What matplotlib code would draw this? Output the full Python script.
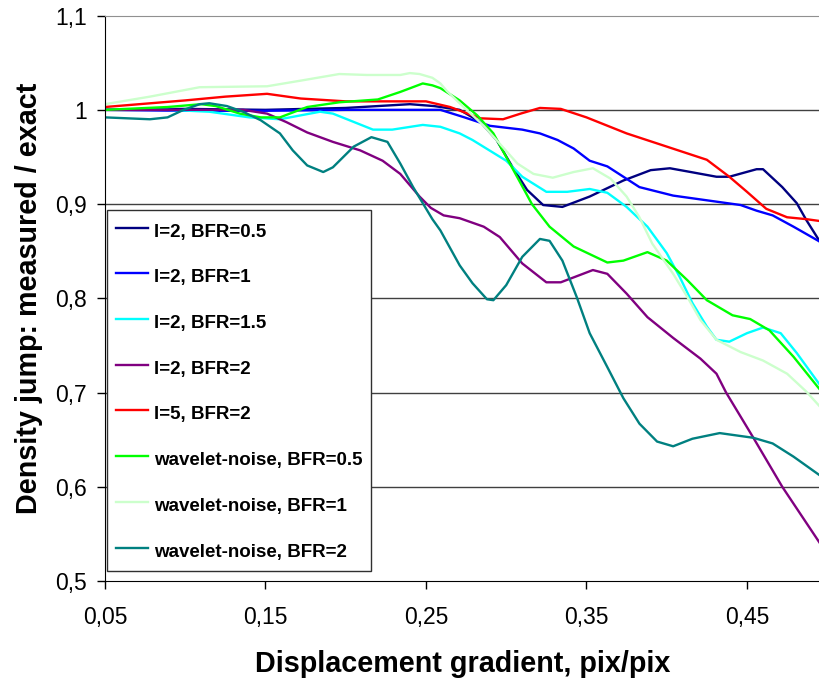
import matplotlib
matplotlib.use('Agg')
import matplotlib.pyplot as plt
from matplotlib.ticker import FuncFormatter

plt.rcParams['font.family'] = ['Liberation Sans', 'DejaVu Sans']

# displacement gradient (pix/pix) vs measured/exact density jump, one pair per run
x_l2_bfr05 = [0.05, 0.10, 0.15, 0.20, 0.24, 0.255, 0.271, 0.284, 0.294, 0.304, 0.313, 0.323,
              0.335, 0.352, 0.373, 0.39, 0.402, 0.415, 0.431, 0.439, 0.456, 0.46, 0.472,
              0.481, 0.487, 0.4955]
y_l2_bfr05 = [1.0, 1.001, 1.0, 1.002, 1.006, 1.004, 1.0, 0.987, 0.968, 0.939, 0.915, 0.899,
              0.897, 0.908, 0.925, 0.936, 0.938, 0.934, 0.929, 0.929, 0.937, 0.937, 0.918,
              0.901, 0.883, 0.860]

x_l2_bfr1 = [0.05, 0.10, 0.15, 0.20, 0.25, 0.259, 0.274, 0.29, 0.31, 0.321, 0.332, 0.342,
             0.352, 0.363, 0.383, 0.404, 0.425, 0.446, 0.456, 0.466, 0.479, 0.4955]
y_l2_bfr1 = [1.0, 0.999, 0.999, 1.0, 1.0, 1.0, 0.992, 0.983, 0.979, 0.975, 0.968, 0.959,
             0.946, 0.94, 0.918, 0.909, 0.904, 0.899, 0.893, 0.888, 0.876, 0.860]

x_l2_bfr15 = [0.05, 0.089, 0.115, 0.14, 0.159, 0.184, 0.192, 0.217, 0.229, 0.248, 0.259,
              0.271, 0.279, 0.30, 0.31, 0.325, 0.338, 0.352, 0.363, 0.375, 0.388, 0.40,
              0.408, 0.416, 0.425, 0.431, 0.439, 0.45, 0.46, 0.471, 0.481, 0.4955]
y_l2_bfr15 = [1.0, 1.0, 0.998, 0.992, 0.990, 0.998, 0.996, 0.979, 0.979, 0.984, 0.982,
              0.975, 0.968, 0.946, 0.929, 0.913, 0.913, 0.916, 0.912, 0.897, 0.876, 0.848,
              0.823, 0.795, 0.770, 0.756, 0.754, 0.763, 0.769, 0.763, 0.742, 0.708]

x_l2_bfr2 = [0.05, 0.109, 0.136, 0.151, 0.163, 0.176, 0.192, 0.209, 0.223, 0.234, 0.246,
             0.253, 0.261, 0.271, 0.286, 0.296, 0.31, 0.325, 0.334, 0.354, 0.363, 0.375,
             0.388, 0.404, 0.421, 0.431, 0.437, 0.454, 0.472, 0.4955]
y_l2_bfr2 = [1.0, 1.0, 1.0, 0.996, 0.987, 0.976, 0.966, 0.957, 0.946, 0.932, 0.908,
             0.896, 0.888, 0.885, 0.876, 0.865, 0.837, 0.817, 0.817, 0.830, 0.826, 0.805,
             0.780, 0.758, 0.736, 0.720, 0.700, 0.652, 0.600, 0.540]

x_l5_bfr2 = [0.05, 0.10, 0.125, 0.151, 0.172, 0.20, 0.225, 0.25, 0.265, 0.284, 0.298, 0.309,
             0.321, 0.334, 0.35, 0.375, 0.40, 0.425, 0.439, 0.45, 0.462, 0.475, 0.487, 0.4955]
y_l5_bfr2 = [1.003, 1.010, 1.014, 1.017, 1.012, 1.009, 1.009, 1.009, 1.003, 0.991, 0.990,
             0.996, 1.002, 1.001, 0.992, 0.975, 0.961, 0.947, 0.929, 0.913, 0.895, 0.886,
             0.884, 0.882]

x_wn_bfr05 = [0.05, 0.089, 0.11, 0.119, 0.134, 0.147, 0.159, 0.176, 0.196, 0.22, 0.234, 0.248,
              0.254, 0.259, 0.271, 0.282, 0.292, 0.30, 0.309, 0.316, 0.327, 0.342, 0.363,
              0.373, 0.388, 0.40, 0.413, 0.425, 0.441, 0.452, 0.464, 0.479, 0.4955]
y_wn_bfr05 = [1.0, 1.003, 1.006, 1.004, 0.996, 0.992, 0.992, 1.003, 1.008, 1.011, 1.019, 1.028,
              1.026, 1.023, 1.010, 0.994, 0.975, 0.950, 0.922, 0.900, 0.876, 0.855, 0.838,
              0.840, 0.849, 0.840, 0.819, 0.798, 0.782, 0.778, 0.766, 0.738, 0.703]

x_wn_bfr1 = [0.05, 0.078, 0.109, 0.151, 0.172, 0.196, 0.213, 0.234, 0.24, 0.246, 0.254, 0.259,
             0.263, 0.271, 0.286, 0.296, 0.307, 0.317, 0.329, 0.342, 0.354, 0.365, 0.375,
             0.383, 0.391, 0.404, 0.413, 0.421, 0.431, 0.446, 0.46, 0.475, 0.487, 0.4955]
y_wn_bfr1 = [1.006, 1.014, 1.024, 1.025, 1.031, 1.038, 1.037, 1.037, 1.039, 1.038, 1.034, 1.028,
             1.020, 1.007, 0.983, 0.964, 0.943, 0.932, 0.928, 0.934, 0.938, 0.927, 0.908,
             0.886, 0.858, 0.826, 0.801, 0.777, 0.756, 0.743, 0.734, 0.720, 0.701, 0.685]

x_wn_bfr2 = [0.05, 0.078, 0.089, 0.099, 0.109, 0.115, 0.126, 0.136, 0.147, 0.159, 0.167, 0.176,
             0.186, 0.192, 0.205, 0.216, 0.226, 0.234, 0.242, 0.248, 0.254, 0.259, 0.271,
             0.279, 0.288, 0.292, 0.30, 0.31, 0.321, 0.327, 0.335, 0.344, 0.352, 0.363,
             0.373, 0.383, 0.394, 0.404, 0.416, 0.433, 0.454, 0.466, 0.479, 0.4955]
y_wn_bfr2 = [0.992, 0.990, 0.992, 1.0, 1.006, 1.007, 1.004, 0.998, 0.989, 0.975, 0.957, 0.941,
             0.934, 0.939, 0.961, 0.971, 0.966, 0.943, 0.918, 0.901, 0.884, 0.872, 0.835,
             0.816, 0.799, 0.798, 0.814, 0.844, 0.863, 0.861, 0.840, 0.801, 0.763, 0.727,
             0.694, 0.667, 0.648, 0.643, 0.651, 0.657, 0.652, 0.646, 0.632, 0.612]

labels = ['l=2, BFR=0.5', 'l=2, BFR=1', 'l=2, BFR=1.5', 'l=2, BFR=2', 'l=5, BFR=2',
          'wavelet-noise, BFR=0.5', 'wavelet-noise, BFR=1', 'wavelet-noise, BFR=2']
colors = ['#000080', '#0000ff', '#00ffff', '#800080', '#ff0000',
          '#00ff00', '#ccffcc', '#008080']
series = [(x_l2_bfr05, y_l2_bfr05), (x_l2_bfr1, y_l2_bfr1), (x_l2_bfr15, y_l2_bfr15),
          (x_l2_bfr2, y_l2_bfr2), (x_l5_bfr2, y_l5_bfr2), (x_wn_bfr05, y_wn_bfr05),
          (x_wn_bfr1, y_wn_bfr1), (x_wn_bfr2, y_wn_bfr2)]

x_ticks = [0.05, 0.15, 0.25, 0.35, 0.45]
y_ticks = [0.5, 0.6, 0.7, 0.8, 0.9, 1.0, 1.1]

fig = plt.figure(figsize=(8.2, 6.78), dpi=100)
ax = fig.add_axes([0.128, 0.143, 0.872, 0.834])

for yv in y_ticks[1:-1]:
    ax.axhline(yv, color='#404040', lw=1.0, zorder=1)

for (xs, ys), lab, col in zip(series, labels, colors):
    ax.plot(xs, ys, color=col, lw=1.7, label=lab, zorder=2)

ax.set_xlim(0.05, 0.4955)
ax.set_ylim(0.5, 1.1)
ax.set_xticks(x_ticks)
ax.set_yticks(y_ticks)
ax.xaxis.set_major_formatter(FuncFormatter(lambda v, p: f'{v:.2f}'.replace('.', ',')))
ax.yaxis.set_major_formatter(FuncFormatter(lambda v, p: f'{v:g}'.replace('.', ',')))
ax.tick_params(axis='both', direction='out', length=6, width=1, labelsize=16.5, colors='black')
ax.tick_params(axis='x', pad=12)
ax.tick_params(axis='y', pad=7)

ax.spines['right'].set_visible(False)
ax.spines['top'].set_color('#909090')
ax.spines['left'].set_color('black')
ax.spines['bottom'].set_color('black')

ax.set_xlabel('Displacement gradient, pix/pix', fontsize=20.7, fontweight='bold', labelpad=15)
ax.set_ylabel('Density jump: measured / exact', fontsize=20.7, fontweight='bold', labelpad=9)

leg = ax.legend(loc='upper left', bbox_to_anchor=(0.003, 0.656),
                prop={'weight': 'bold', 'size': 13.5}, frameon=True, fancybox=False,
                borderaxespad=0, labelspacing=1.18, handleheight=1.56, handlelength=1.75,
                handletextpad=0.28, borderpad=0.45)
leg.get_frame().set_edgecolor('#303030')
leg.get_frame().set_linewidth(1.0)
leg.get_frame().set_alpha(1)
leg.set_zorder(5)

fig.savefig('out.png', dpi=100)
